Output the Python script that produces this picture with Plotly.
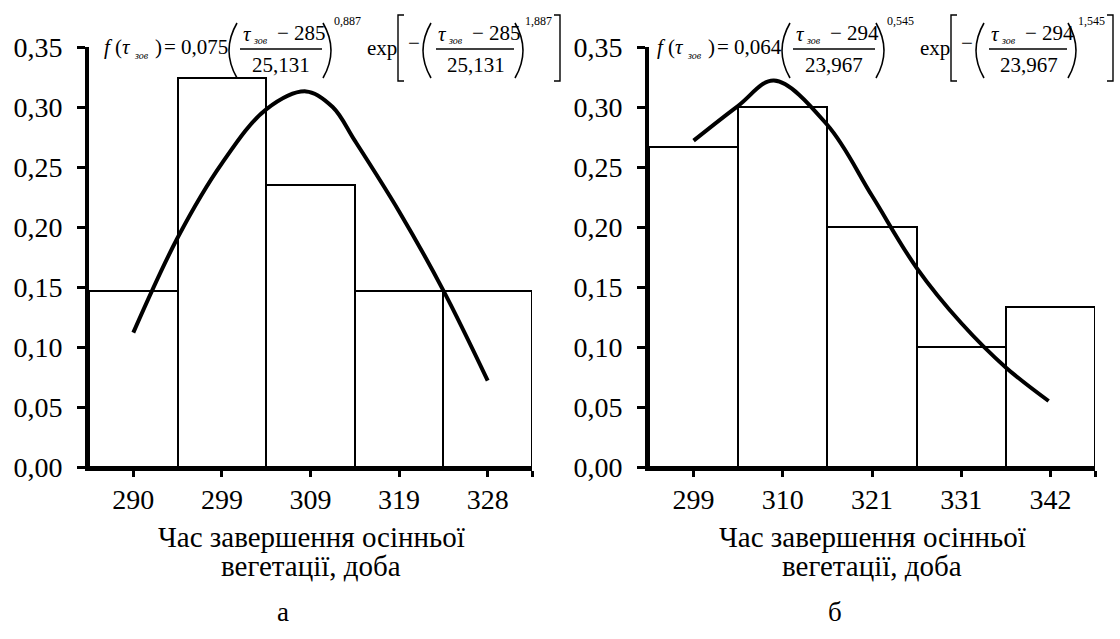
import plotly.graph_objects as go

W, H = 1120, 639

# ---- data ----
cats_a = ["290", "299", "309", "319", "328"]
freq_a = [0.147, 0.324, 0.235, 0.147, 0.147]
curve_a_pos = [0, 0.5, 1.0, 1.5, 1.95, 2.25, 2.5, 3.0, 3.5, 4.0]
curve_a_val = [0.112, 0.191, 0.253, 0.298, 0.313, 0.300, 0.272, 0.213, 0.147, 0.072]

cats_b = ["299", "310", "321", "331", "342"]
freq_b = [0.267, 0.300, 0.200, 0.100, 0.133]
curve_b_pos = [0, 0.5, 0.9, 1.5, 2.0, 2.5, 3.0, 3.5, 3.98]
curve_b_val = [0.272, 0.301, 0.322, 0.285, 0.226, 0.166, 0.120, 0.083, 0.055]

x_title = ["Час завершення осінньої", "вегетації, доба"]
captions = ["а", "б"]
formula_a = dict(coef="0,075", loc="285", scale="25,131", p1="0,887", p2="1,887")
formula_b = dict(coef="0,064", loc="294", scale="23,967", p1="0,545", p2="1,545")

FONT = "'Liberation Serif', 'Times New Roman', Tinos, 'DejaVu Serif', serif"

fig = go.Figure()

for i, (cats, freq, cp, cv) in enumerate([(cats_a, freq_a, curve_a_pos, curve_a_val),
                                           (cats_b, freq_b, curve_b_pos, curve_b_val)]):
    xa = "x" if i == 0 else "x2"
    ya = "y" if i == 0 else "y2"
    fig.add_trace(go.Bar(x=list(range(len(cats))), y=freq, width=1,
                         marker=dict(color="white", line=dict(color="black", width=2)),
                         xaxis=xa, yaxis=ya, showlegend=False, hoverinfo="skip"))
    fig.add_trace(go.Scatter(x=cp, y=cv, mode="lines",
                             line=dict(color="black", width=4, shape="spline", smoothing=1.0),
                             xaxis=xa, yaxis=ya, showlegend=False, hoverinfo="skip"))

ydom = [1 - 467 / H, 1 - 47 / H]
common_x = dict(range=[-0.5, 4.5], showline=True, linewidth=4, linecolor="black",
                ticks="outside", ticklen=6, tickwidth=3, tickcolor="black",
                showgrid=False, zeroline=False, ticklabelstandoff=-2, automargin=False,
                tickfont=dict(family=FONT, size=28, color="black"))
common_y = dict(range=[0, 0.35], domain=ydom, showline=True, linewidth=4, linecolor="black",
                ticks="outside", ticklen=8, tickwidth=3, tickcolor="black",
                tickvals=[0, 0.05, 0.1, 0.15, 0.2, 0.25, 0.3, 0.35], tickformat=".2f",
                showgrid=False, zeroline=False, ticklabelstandoff=9, automargin=False,
                tickfont=dict(family=FONT, size=28, color="black"))

fig.update_layout(
    width=W, height=H, margin=dict(l=0, r=0, t=0, b=0, autoexpand=False),
    paper_bgcolor="white", plot_bgcolor="white", separators=", ",
    bargap=0,
    xaxis=dict(domain=[89 / W, 532 / W], anchor="y",
               tickvals=[0, 1, 2, 3, 4, 4.5], ticktext=cats_a + [""], **common_x),
    yaxis=dict(anchor="x", **common_y),
    xaxis2=dict(domain=[649 / W, 1095 / W], anchor="y2",
                tickvals=[0, 1, 2, 3, 4, 4.5], ticktext=cats_b + [""], **common_x),
    yaxis2=dict(anchor="x2", **common_y),
)


def px(x):
    return x / W


def py(y):
    return 1 - y / H


def txt(x, y, t, size, xanchor="left"):
    fig.add_annotation(x=px(x), y=py(y), xref="paper", yref="paper", text=t,
                       showarrow=False, xanchor=xanchor, yanchor="middle",
                       font=dict(family=FONT, size=size, color="black"), borderpad=0)


def hline(x0, x1, y):
    fig.add_shape(type="line", xref="paper", yref="paper",
                  x0=px(x0), x1=px(x1), y0=py(y), y1=py(y),
                  line=dict(color="black", width=1.3))


def paren(xl, xr, yt, yb, left=True):
    # curved bracket drawn as a quadratic curve
    ym = (yt + yb) / 2
    if left:
        xs, xc = xr, xr - 2 * (xr - xl)
    else:
        xs, xc = xl, xl + 2 * (xr - xl)
    path = f"M {px(xs)},{py(yt)} Q {px(xc)},{py(ym)} {px(xs)},{py(yb)}"
    fig.add_shape(type="path", xref="paper", yref="paper", path=path,
                  line=dict(color="black", width=1.6))


def bracket(x, xe, yt, yb):
    path = f"M {px(xe)},{py(yt)} L {px(x)},{py(yt)} L {px(x)},{py(yb)} L {px(xe)},{py(yb)}"
    fig.add_shape(type="path", xref="paper", yref="paper", path=path,
                  line=dict(color="black", width=1.4))


def formula(dx, f):
    main = 47
    txt(103 + dx, main, "<i>f</i> (<i>τ</i>", 21)
    txt(133 + dx, main + 8, "<i>зов</i>", 10)
    txt(154 + dx, main, ")", 21)
    txt(163 + dx, main, "= " + f["coef"], 21)
    paren(229 + dx, 237 + dx, 23, 78, True)
    # fraction 1
    txt(242 + dx, 34, "<i>τ</i>", 21)
    txt(252 + dx, 40, "<i>зов</i>", 10)
    txt(276 + dx, 33, "− " + f["loc"], 21)
    hline(240 + dx, 322 + dx, 49)
    txt(281 + dx, 65, f["scale"], 21, "center")
    paren(323 + dx, 331 + dx, 23, 78, False)
    txt(333 + dx, 21, f["p1"], 12)
    txt(366 + dx, main + 1, "exp", 21)
    bracket(398 + dx, 404 + dx, 15, 81)
    txt(407 + dx, main - 4, "−", 21)
    paren(423 + dx, 431 + dx, 23, 78, True)
    txt(437 + dx, 34, "<i>τ</i>", 21)
    txt(447 + dx, 40, "<i>зов</i>", 10)
    txt(471 + dx, 33, "− " + f["loc"], 21)
    hline(436 + dx, 514 + dx, 49)
    txt(476 + dx, 65, f["scale"], 21, "center")
    paren(515 + dx, 523 + dx, 23, 78, False)
    txt(524 + dx, 21, f["p2"], 12)
    bracket(560 + dx, 554 + dx, 15, 81)


formula(0, formula_a)
formula(553, formula_b)

for cx in (311, 872):
    txt(cx, 537, x_title[0], 29, "center")
    txt(cx, 566, x_title[1], 29, "center")

txt(283, 612, captions[0], 27, "center")
txt(835, 612, captions[1], 27, "center")

fig.write_html("out.html", config={"displayModeBar": False},
               post_script="document.body.style.margin='0';document.body.style.overflow='hidden';")
